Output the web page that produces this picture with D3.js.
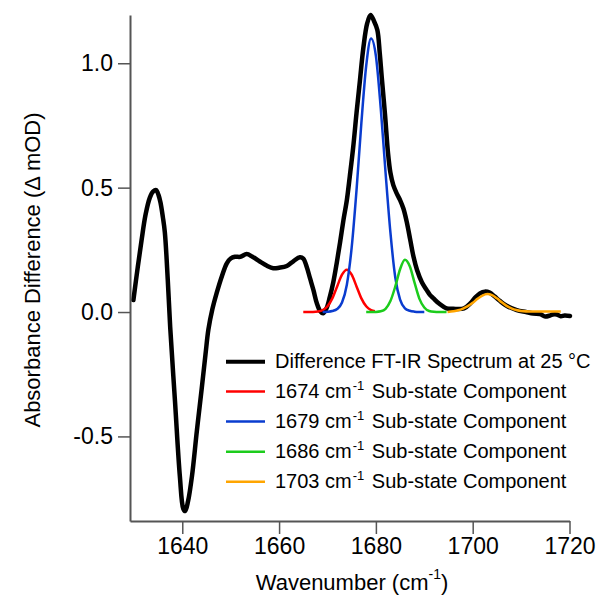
<!DOCTYPE html>
<html><head><meta charset="utf-8">
<script src="https://cdn.jsdelivr.net/npm/d3@7"></script>
<style>
html,body{margin:0;padding:0;background:#fff;}
svg{display:block;font-family:"Liberation Sans",Arial,sans-serif;}
</style></head>
<body>
<svg id="chart" width="603" height="606"></svg>
<script>
// ---- data ----
const spectrumX = [1629.9,1630.8,1631.6,1632.4,1633.3,1634.0,1634.6,1635.1,1635.5,1636.0,1636.4,1637.0,1637.5,1638.5,1639.5,1640.2,1640.6,1641.2,1642.0,1643.0,1644.0,1644.8,1645.4,1646.2,1647.1,1648.2,1649.2,1650.0,1650.9,1652.0,1653.3,1654.5,1656.1,1657.5,1658.8,1660.0,1661.6,1663.0,1664.3,1665.0,1665.7,1666.4,1667.1,1667.8,1668.5,1669.1,1669.8,1670.5,1671.2,1671.9,1672.6,1673.3,1674.0,1674.6,1675.3,1676.0,1676.7,1677.4,1678.2,1678.9,1679.6,1680.3,1680.8,1681.2,1681.9,1682.5,1683.0,1683.6,1684.3,1685.0,1685.7,1686.4,1687.1,1687.8,1688.5,1689.5,1690.5,1691.2,1691.9,1693.0,1694.6,1696.0,1698.2,1699.5,1700.5,1701.5,1702.5,1703.5,1704.5,1705.6,1707.0,1709.1,1711.0,1712.5,1713.9,1715.0,1715.8,1716.5,1717.4,1718.2,1719.0,1720.1];
const spectrumY = [0.048,0.18,0.29,0.39,0.46,0.485,0.49,0.47,0.44,0.38,0.32,0.13,-0.06,-0.36,-0.66,-0.79,-0.80,-0.76,-0.66,-0.48,-0.31,-0.17,-0.07,0.01,0.076,0.145,0.196,0.215,0.222,0.222,0.233,0.222,0.202,0.186,0.176,0.178,0.185,0.205,0.22,0.215,0.182,0.135,0.088,0.035,0.003,-0.005,0.015,0.062,0.12,0.196,0.28,0.37,0.45,0.544,0.66,0.80,0.93,1.06,1.16,1.194,1.17,1.134,1.04,0.946,0.79,0.64,0.56,0.51,0.477,0.45,0.415,0.36,0.29,0.22,0.169,0.12,0.088,0.068,0.055,0.035,0.015,0.013,0.015,0.035,0.058,0.075,0.082,0.078,0.063,0.045,0.025,0.008,0.0,-0.006,-0.008,-0.018,-0.015,-0.010,-0.010,-0.017,-0.014,-0.016];

const comp1674X = [1665,1666,1667,1668,1669,1670,1671,1672,1673,1674,1675,1676,1677,1678,1679,1679.8];
const comp1674Y = [0,0,0.0004,0.002,0.0075,0.023,0.055,0.103,0.150,0.170,0.150,0.103,0.055,0.023,0.0075,0.003];

const comp1679X = [1669,1670,1671,1672,1673,1674,1675,1676,1677,1678,1679,1680,1681,1682,1683,1684,1685,1686,1687,1688,1689,1690];
const comp1679Y = [0,0.001,0.004,0.012,0.038,0.11,0.26,0.49,0.76,0.99,1.10,1.03,0.82,0.56,0.32,0.14,0.05,0.015,0.005,0.0015,0.0003,0];

const comp1686X = [1678,1679,1680,1681,1682,1683,1684,1685,1686,1687,1688,1689,1690,1691,1692,1693,1694.6];
const comp1686Y = [0,0,0.0005,0.003,0.013,0.044,0.102,0.172,0.21,0.184,0.117,0.053,0.018,0.004,0.0007,0,0];

const comp1703X = [1694.8,1696,1697,1698,1699,1700,1701,1702,1703,1704,1705,1706,1707,1708,1709,1710,1712,1718.2];
const comp1703Y = [0,0.003,0.007,0.014,0.024,0.037,0.053,0.066,0.072,0.068,0.055,0.039,0.025,0.015,0.008,0.004,0.002,0.002];

const xTicks = [1640,1660,1680,1700,1720];
const yTicks = [-0.5,0.0,0.5,1.0];

const seriesNames = ["Difference FT-IR Spectrum at 25 °C","1674","1679","1686","1703"];
const seriesColors = ["#000000","#ff0000","#0a3ccf","#1ccc1c","#ffa500"];

// ---- drawing ----
const svg = d3.select("#chart");
const x = d3.scaleLinear().domain([1629.2,1720]).range([130,569.5]);
const y = d3.scaleLinear().domain([-0.84,1.194]).range([521,15]);

const zip = (xs,ys)=>xs.map((v,i)=>[v,ys[i]]);

const comps = [
  {xs:comp1674X, ys:comp1674Y, c:seriesColors[1]},
  {xs:comp1679X, ys:comp1679Y, c:seriesColors[2]},
  {xs:comp1686X, ys:comp1686Y, c:seriesColors[3]},
  {xs:comp1703X, ys:comp1703Y, c:seriesColors[4]}
];

svg.append("path").datum(zip(spectrumX,spectrumY))
  .attr("d", d3.line().x(d=>x(d[0])).y(d=>y(d[1])).curve(d3.curveCatmullRom.alpha(0.5)))
  .attr("fill","none").attr("stroke",seriesColors[0]).attr("stroke-width",4.5)
  .attr("stroke-linejoin","round").attr("stroke-linecap","round");

comps.forEach(cp=>{
  svg.append("path").datum(zip(cp.xs,cp.ys))
    .attr("d", d3.line().x(d=>x(d[0])).y(d=>y(d[1])).curve(d3.curveMonotoneX))
    .attr("fill","none").attr("stroke",cp.c).attr("stroke-width",2.5)
    .attr("stroke-linejoin","round");
});

// axes
const axisColor = "#555";
const gx = svg.append("g").attr("transform","translate(0,521)")
  .call(d3.axisBottom(x).tickValues(xTicks).tickFormat(d3.format("d")).tickSize(13).tickSizeOuter(0).tickPadding(4));
const gy = svg.append("g").attr("transform","translate(130,0)")
  .call(d3.axisLeft(y).tickValues(yTicks).tickFormat(d=>d.toFixed(1)).tickSize(12).tickSizeOuter(0).tickPadding(5));
[gx,gy].forEach(g=>{
  g.select(".domain").attr("stroke",axisColor).attr("stroke-width",2);
  g.selectAll(".tick line").attr("stroke",axisColor).attr("stroke-width",1.5);
  g.selectAll(".tick text").attr("fill","#000").style("font-size","23px")
    .style("font-family","'Liberation Sans', Arial, sans-serif");
});

// axis titles
const xt = svg.append("text").attr("x",352).attr("y",590).attr("text-anchor","middle")
  .style("font-size","22px").attr("fill","#000");
xt.append("tspan").text("Wavenumber (cm");
xt.append("tspan").attr("dy",-11).style("font-size","14px").text("-1");
xt.append("tspan").attr("dy",11).text(")");

svg.append("text").attr("transform","translate(40,270) rotate(-90)")
  .attr("text-anchor","middle").style("font-size","22px").attr("fill","#000")
  .text("Absorbance Difference (\u0394 mOD)");

// legend
const legRows = [361.7,391.5,421.5,451.7,481.7];
legRows.forEach((ry,i)=>{
  svg.append("line").attr("x1",226).attr("x2",265).attr("y1",ry).attr("y2",ry)
    .attr("stroke",seriesColors[i]).attr("stroke-width", i===0?4:2.5);
  const t = svg.append("text").attr("x",275).attr("y",ry+6.5)
    .style("font-size","20px").attr("fill","#000");
  if(i===0){ t.text(seriesNames[0]); }
  else {
    t.append("tspan").text(seriesNames[i]+" cm");
    t.append("tspan").attr("dy",-8).attr("dx",1).style("font-size","13px").text("-1");
    t.append("tspan").attr("dy",8).attr("dx",2).text(" Sub-state Component");
  }
});
</script>
</body></html>
